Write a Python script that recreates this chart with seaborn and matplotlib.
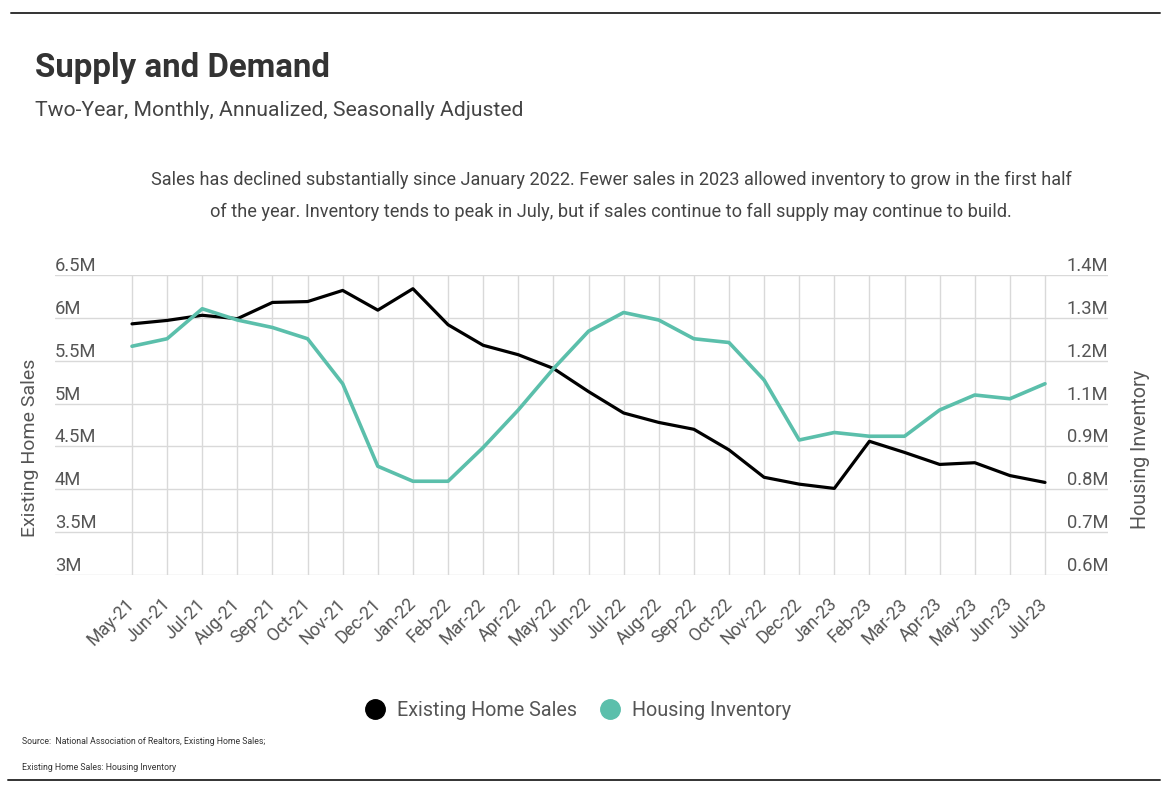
import numpy as np
import pandas as pd
import matplotlib.pyplot as plt
import seaborn as sns
from matplotlib.lines import Line2D

# data (millions, annualized)
months = ['May-21', 'Jun-21', 'Jul-21', 'Aug-21', 'Sep-21', 'Oct-21', 'Nov-21', 'Dec-21',
          'Jan-22', 'Feb-22', 'Mar-22', 'Apr-22', 'May-22', 'Jun-22', 'Jul-22', 'Aug-22',
          'Sep-22', 'Oct-22', 'Nov-22', 'Dec-22', 'Jan-23', 'Feb-23', 'Mar-23', 'Apr-23',
          'May-23', 'Jun-23', 'Jul-23']
sales = [5.93, 5.97, 6.03, 5.99, 6.18, 6.19, 6.32, 6.09, 6.34, 5.92, 5.68, 5.57, 5.41, 5.14,
         4.89, 4.78, 4.70, 4.46, 4.14, 4.06, 4.01, 4.56, 4.43, 4.29, 4.31, 4.16, 4.08]
inventory = [1.21, 1.23, 1.31, 1.28, 1.26, 1.23, 1.11, 0.89, 0.85, 0.85, 0.94, 1.04, 1.15,
             1.25, 1.30, 1.28, 1.23, 1.22, 1.12, 0.96, 0.98, 0.97, 0.97, 1.04, 1.08, 1.07, 1.11]
left_ticks = [3.0, 3.5, 4.0, 4.5, 5.0, 5.5, 6.0, 6.5]

df = pd.DataFrame({'Month': months,
                   'Existing Home Sales': np.array(sales) * 1e6,
                   'Housing Inventory': np.array(inventory) * 1e6})
df['pos'] = range(len(df))

sns.set_theme(style='white')
plt.rcParams['font.family'] = ['Roboto', 'DejaVu Sans']

teal = '#5bbfab'
grey = '#555555'
W, H = 1168, 794
fig = plt.figure(figsize=(W / 100, H / 100), dpi=100)
ax = fig.add_axes([55 / W, 1 - 575 / H, (1108 - 55) / W, 300 / H])
ax2 = ax.twinx()

sns.lineplot(data=df, x='pos', y='Existing Home Sales', ax=ax, color='black', lw=2.3)
sns.lineplot(data=df, x='pos', y='Housing Inventory', ax=ax2, color=teal, lw=2.6)

step = (1045 - 132) / 26
ax.set_xlim(-(132 - 55) / step, 26 + (1108 - 1045) / step)
ax.set_ylim(3e6, 6.5e6)
ax2.set_ylim(0.6e6, 1.4e6)

ax.set_xticks(df['pos'], df['Month'])
ax.tick_params(axis='x', length=0, pad=19, labelsize=12.8, labelcolor=grey)
for lab in ax.get_xticklabels():
    lab.set_rotation(45)
    lab.set_ha('right')
    lab.set_va('center')
    lab.set_rotation_mode('anchor')

yt = np.array(left_ticks) * 1e6
ax.set_yticks(yt, [f'{v / 1e6:g}M' for v in yt])
ax.tick_params(axis='y', length=0, pad=0, labelsize=13.2, labelcolor=grey)
for lab in ax.get_yticklabels():
    lab.set_ha('left')
    lab.set_va('bottom')

rt = np.linspace(0.6e6, 1.4e6, len(left_ticks))
ax2.set_yticks(rt, [f'{v / 1e6:.1f}M' for v in rt])
ax2.tick_params(axis='y', length=0, pad=0, labelsize=13.2, labelcolor=grey)
for lab in ax2.get_yticklabels():
    lab.set_ha('right')
    lab.set_va('bottom')

ax.grid(True, color='#d9d9d9', lw=1)
ax2.grid(False)
for a in (ax, ax2):
    for s in a.spines.values():
        s.set_visible(False)
ax.set_xlabel('')
ax.set_ylabel('')
ax2.set_ylabel('')

fig.text(30 / W, 1 - 448 / H, 'Existing Home Sales', rotation=90, ha='center', va='center',
         fontsize=14, color=grey)
fig.text(1140 / W, 1 - 449 / H, 'Housing Inventory', rotation=90, ha='center', va='center',
         fontsize=14.2, color=grey)

fig.text(35 / W, 1 - 68 / H, 'Supply and Demand', fontsize=23.8, fontweight='bold',
         color='#333333', va='center')
fig.text(35 / W, 1 - 110 / H, 'Two-Year, Monthly, Annualized, Seasonally Adjusted',
         fontsize=15.2, color='#444444', va='center')
fig.text(611 / W, 1 - 196 / H,
         'Sales has declined substantially since January 2022. Fewer sales in 2023 allowed inventory to grow in the first half\n'
         'of the year. Inventory tends to peak in July, but if sales continue to fall supply may continue to build.',
         fontsize=13.1, color='#444444', ha='center', va='center', linespacing=2.05)

handles = [Line2D([], [], marker='o', ls='', ms=14, color='black'),
           Line2D([], [], marker='o', ls='', ms=14, color=teal)]
fig.legend(handles, ['Existing Home Sales', 'Housing Inventory'], loc='center',
           bbox_to_anchor=(578 / W, 1 - 710 / H), ncol=2, frameon=False, fontsize=14.2,
           handlelength=1, handletextpad=0.6, columnspacing=1.2, labelcolor=grey)

fig.text(22 / W, 1 - 742 / H, 'Source:  National Association of Realtors, Existing Home Sales;',
         fontsize=6.3, color='#333333', va='center')
fig.text(22 / W, 1 - 768 / H, 'Existing Home Sales: Housing Inventory',
         fontsize=6.3, color='#333333', va='center')

fig.add_artist(Line2D([11 / W, 1160 / W], [1 - 13 / H] * 2, color='#333333', lw=1.4))
fig.add_artist(Line2D([8 / W, 1160 / W], [1 - 780 / H] * 2, color='#333333', lw=1.4))

fig.savefig('out.png', dpi=100)
